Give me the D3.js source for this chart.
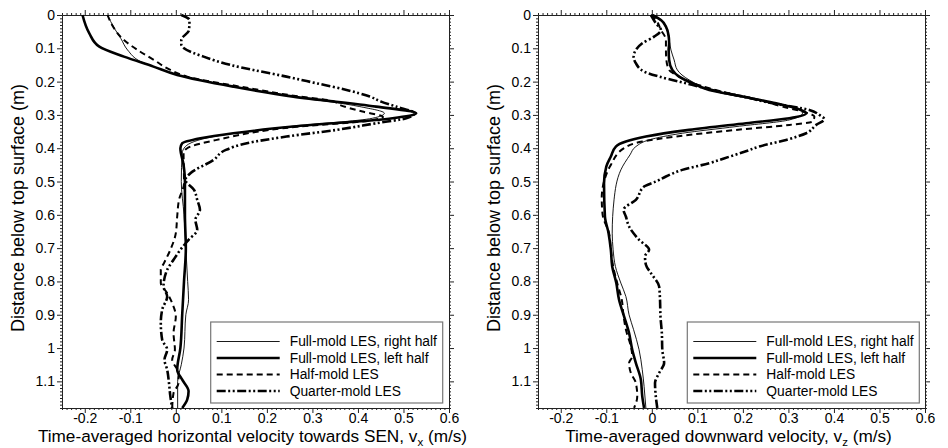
<!DOCTYPE html>
<html>
<head>
<meta charset="utf-8">
<script src="https://cdn.jsdelivr.net/npm/d3@7"></script>
<style>
  body { margin: 0; background: #fff; }
  svg { display: block; font-family: "Liberation Sans", Arial, sans-serif; }
  .tick text { fill: #000; }
</style>
</head>
<body>
<script>
// depth (m) below top surface, velocity (m/s)
var xTicks = [-0.2, -0.1, 0, 0.1, 0.2, 0.3, 0.4, 0.5, 0.6];
var xTickLabels = ["-0.2", "-0.1", "0", "0.1", "0.2", "0.3", "0.4", "0.5", "0.6"];
var yTicks = [0, 0.1, 0.2, 0.3, 0.4, 0.5, 0.6, 0.7, 0.8, 0.9, 1, 1.1];
var yTickLabels = ["0", "0.1", "0.2", "0.3", "0.4", "0.5", "0.6", "0.7", "0.8", "0.9", "1", "1.1"];

var seriesNames = ["Full-mold LES, right half", "Full-mold LES, left half", "Half-mold LES", "Quarter-mold LES"];

// horizontal velocity vx
var vxRightHalf = [[0, -0.15], [0.04, -0.135], [0.07, -0.121], [0.105, -0.106], [0.14, -0.077], [0.16, -0.04],
  [0.18, 0.003], [0.215, 0.13], [0.245, 0.26], [0.275, 0.404], [0.295, 0.458], [0.31, 0.432], [0.335, 0.25],
  [0.365, 0.083], [0.395, 0.021], [0.415, 0.014], [0.5, 0.012], [0.6, 0.018], [0.7, 0.022], [0.8, 0.026],
  [0.855, 0.028], [0.9, 0.022], [1.0, 0.018], [1.05, 0.012], [1.1, 0.004], [1.18, 0.004]];
var vxLeftHalf = [[0, -0.205], [0.055, -0.19], [0.095, -0.168], [0.125, -0.114], [0.155, -0.049], [0.18, 0.003],
  [0.215, 0.126], [0.245, 0.258], [0.275, 0.44], [0.295, 0.528], [0.31, 0.476], [0.335, 0.258], [0.355, 0.126],
  [0.37, 0.054], [0.385, 0.014], [0.4, 0.01], [0.45, 0.017], [0.5, 0.02], [0.6, 0.02], [0.7, 0.022], [0.8, 0.018],
  [0.9, 0.014], [1.0, 0.01], [1.065, 0.003], [1.095, 0.014], [1.13, 0.028], [1.155, 0.025], [1.18, 0.014]];
var vxHalfMold = [[0, -0.15], [0.03, -0.14], [0.075, -0.114], [0.105, -0.084], [0.135, -0.048], [0.165, -0.012],
  [0.185, 0.025], [0.215, 0.141], [0.245, 0.273], [0.258, 0.345], [0.27, 0.36], [0.29, 0.41], [0.306, 0.455],
  [0.318, 0.42], [0.335, 0.27], [0.375, 0.09], [0.4, 0.025], [0.415, 0.017], [0.505, 0.018], [0.555, 0.007],
  [0.605, 0.003], [0.655, 0.0], [0.705, -0.012], [0.745, -0.026], [0.765, -0.033], [0.805, -0.033], [0.835, -0.019],
  [0.865, -0.008], [0.905, 0], [0.955, -0.005], [1.005, -0.002], [1.035, -0.008], [1.075, 0.006], [1.105, 0.006],
  [1.135, -0.005], [1.18, -0.008]];
var vxQuarterMold = [[0, 0.012], [0.015, 0.03], [0.045, 0.029], [0.075, 0.012], [0.088, 0.012], [0.1, 0.018],
  [0.125, 0.061], [0.15, 0.12], [0.165, 0.17], [0.185, 0.243], [0.205, 0.309], [0.225, 0.375], [0.245, 0.426],
  [0.26, 0.451], [0.275, 0.484], [0.295, 0.524], [0.31, 0.506], [0.325, 0.44], [0.345, 0.353], [0.365, 0.243],
  [0.385, 0.156], [0.405, 0.11], [0.435, 0.083], [0.475, 0.032], [0.495, 0.021], [0.525, 0.04], [0.555, 0.047],
  [0.585, 0.053], [0.615, 0.043], [0.645, 0.047], [0.675, 0.028], [0.705, 0.01], [0.735, -0.005], [0.765, -0.019],
  [0.815, -0.027], [0.845, -0.019], [0.885, -0.03], [0.925, -0.033], [0.975, -0.03], [1.005, -0.019],
  [1.035, -0.025], [1.065, -0.019], [1.105, -0.015], [1.145, -0.012], [1.18, -0.008]];

// downward velocity vz
var vzRightHalf = [[0, -0.002], [0.027, 0.027], [0.075, 0.038], [0.105, 0.042], [0.135, 0.049], [0.165, 0.056],
  [0.195, 0.082], [0.215, 0.111], [0.235, 0.155], [0.255, 0.229], [0.275, 0.302], [0.295, 0.331], [0.315, 0.302],
  [0.335, 0.185], [0.355, 0.067], [0.375, -0.006], [0.395, -0.035], [0.42, -0.048], [0.465, -0.068],
  [0.555, -0.083], [0.655, -0.087], [0.705, -0.085], [0.755, -0.08], [0.805, -0.068], [0.845, -0.057],
  [0.9, -0.05], [0.945, -0.04], [1.005, -0.028], [1.065, -0.021], [1.115, -0.017], [1.18, -0.013]];
var vzLeftHalf = [[0, 0.001], [0.015, 0.02], [0.035, 0.031], [0.063, 0.037], [0.085, 0.038], [0.105, 0.037],
  [0.135, 0.038], [0.165, 0.045], [0.185, 0.06], [0.205, 0.089], [0.225, 0.126], [0.245, 0.2], [0.265, 0.273],
  [0.28, 0.317], [0.295, 0.339], [0.31, 0.302], [0.325, 0.207], [0.345, 0.082], [0.365, -0.013], [0.38, -0.057],
  [0.395, -0.079], [0.425, -0.09], [0.455, -0.1], [0.505, -0.105], [0.605, -0.103], [0.655, -0.095],
  [0.705, -0.09], [0.755, -0.087], [0.805, -0.078], [0.855, -0.072], [0.905, -0.061], [0.955, -0.05],
  [1.005, -0.043], [1.045, -0.035], [1.095, -0.024], [1.145, -0.021], [1.18, -0.017]];
var vzHalfMold = [[0, -0.002], [0.015, 0.009], [0.045, 0.02], [0.075, 0.031], [0.105, 0.031], [0.135, 0.032],
  [0.165, 0.038], [0.18, 0.053], [0.2, 0.082], [0.22, 0.126], [0.24, 0.185], [0.255, 0.236], [0.275, 0.287],
  [0.29, 0.331], [0.305, 0.357], [0.32, 0.353], [0.33, 0.302], [0.345, 0.185], [0.365, 0.053], [0.38, -0.021],
  [0.4, -0.061], [0.45, -0.09], [0.5, -0.105], [0.55, -0.11], [0.6, -0.108], [0.655, -0.094], [0.705, -0.09],
  [0.755, -0.085], [0.805, -0.076], [0.855, -0.066], [0.905, -0.062], [0.955, -0.055], [0.985, -0.048],
  [1.025, -0.043], [1.045, -0.05], [1.075, -0.046], [1.105, -0.035], [1.145, -0.032], [1.18, -0.039]];
var vzQuarterMold = [[0, -0.002], [0.025, 0.009], [0.045, 0.02], [0.065, 0.005], [0.085, -0.021], [0.105, -0.035],
  [0.125, -0.04], [0.145, -0.035], [0.17, -0.017], [0.185, 0.016], [0.2, 0.06], [0.215, 0.104], [0.23, 0.148],
  [0.245, 0.2], [0.265, 0.265], [0.285, 0.346], [0.3, 0.368], [0.313, 0.379], [0.33, 0.361], [0.355, 0.339],
  [0.375, 0.295], [0.395, 0.236], [0.41, 0.205], [0.43, 0.16], [0.445, 0.126], [0.465, 0.067], [0.485, 0.031],
  [0.5, 0.009], [0.515, -0.017], [0.555, -0.035], [0.585, -0.062], [0.605, -0.057], [0.635, -0.05],
  [0.675, -0.028], [0.705, -0.006], [0.725, -0.015], [0.75, -0.013], [0.775, -0.002], [0.815, 0.016],
  [0.855, 0.018], [0.905, 0.019], [0.955, 0.022], [1.005, 0.023], [1.045, 0.027], [1.075, 0.016],
  [1.105, 0.007], [1.135, 0.008], [1.18, 0.012]];

// line styles: thin, thick, dashed, dash-dot-dot
var styles = [
  {w: 0.9, dash: null},
  {w: 2.6, dash: null},
  {w: 2, dash: "6,4"},
  {w: 2.6, dash: "9,2.5,2,2.5,2,2.5"}
];

var panels = [
  {left: 62, right: 449, data: [vxRightHalf, vxLeftHalf, vxHalfMold, vxQuarterMold],
   title: "Time-averaged horizontal velocity towards SEN, v", sub: "x", legendX: 210.7},
  {left: 538, right: 925, data: [vzRightHalf, vzLeftHalf, vzHalfMold, vzQuarterMold],
   title: "Time-averaged downward velocity, v", sub: "z", legendX: 687.3}
];

var plotTop = 15, plotBottom = 408;

var svg = d3.select("body").append("svg")
    .attr("width", 948)
    .attr("height", 448);

function minors(lo, hi, step, majors) {
  var out = [];
  for (var i = Math.round(lo / step); i * step <= hi + 1e-9; i++) {
    var v = +(i * step).toFixed(3);
    if (majors.indexOf(v) < 0) out.push(v);
  }
  return out;
}

panels.forEach(function(p) {
  var x = d3.scaleLinear().domain([-0.25, 0.6]).range([p.left, p.right]);
  var y = d3.scaleLinear().domain([0, 1.18]).range([plotTop, plotBottom]);

  var xMinor = minors(-0.25, 0.6, 0.01, xTicks);
  var yMinor = minors(0, 1.18, 0.01, yTicks);

  var g = svg.append("g");

  function addAxis(axis, transform, keepText) {
    var a = g.append("g")
        .attr("transform", transform)
        .call(axis);
    a.selectAll("line").attr("stroke", "#222");
    a.select(".domain").attr("stroke", "#222");
    if (!keepText) a.selectAll("text").remove();
    return a;
  }
  // minor ticks, all four sides
  addAxis(d3.axisBottom(x).tickValues(xMinor).tickSize(2).tickSizeOuter(0), "translate(0," + plotBottom + ")");
  addAxis(d3.axisTop(x).tickValues(xMinor).tickSize(2).tickSizeOuter(0), "translate(0," + plotTop + ")");
  addAxis(d3.axisLeft(y).tickValues(yMinor).tickSize(2).tickSizeOuter(0), "translate(" + p.left + ",0)");
  addAxis(d3.axisRight(y).tickValues(yMinor).tickSize(2).tickSizeOuter(0), "translate(" + p.right + ",0)");

  // major ticks
  var xb = addAxis(d3.axisBottom(x).tickValues(xTicks).tickSize(5).tickSizeOuter(0).tickPadding(0)
      .tickFormat(function(d, i) { return xTickLabels[i]; }), "translate(0," + plotBottom + ")", true);
  addAxis(d3.axisTop(x).tickValues(xTicks).tickSize(5).tickSizeOuter(0), "translate(0," + plotTop + ")");
  var yl = addAxis(d3.axisLeft(y).tickValues(yTicks).tickSize(5).tickSizeOuter(0).tickPadding(2)
      .tickFormat(function(d, i) { return yTickLabels[i]; }), "translate(" + p.left + ",0)", true);
  addAxis(d3.axisRight(y).tickValues(yTicks).tickSize(5).tickSizeOuter(0), "translate(" + p.right + ",0)");

  xb.selectAll("text").style("font-size", "14px").style("font-family", "Liberation Sans, Arial, sans-serif");
  yl.selectAll("text").style("font-size", "14px").style("font-family", "Liberation Sans, Arial, sans-serif");

  // the curves
  var line = d3.line()
      .x(function(d) { return x(d[1]); })
      .y(function(d) { return y(d[0]); })
      .curve(d3.curveMonotoneY);

  p.data.forEach(function(s, i) {
    g.append("path")
        .attr("d", line(s))
        .attr("fill", "none")
        .attr("stroke", "#000")
        .attr("stroke-width", styles[i].w)
        .attr("stroke-dasharray", styles[i].dash)
        .attr("stroke-linejoin", "round");
  });

  // legend
  var lg = g.append("g").attr("transform", "translate(" + p.legendX + ",322)");
  lg.append("rect")
      .attr("width", 232)
      .attr("height", 81)
      .attr("fill", "#fff")
      .attr("stroke", "#777")
      .attr("stroke-width", 1.2);
  seriesNames.forEach(function(name, i) {
    var ly = 19.5 + i * 16.5;
    lg.append("line")
        .attr("x1", 6).attr("x2", 69)
        .attr("y1", ly).attr("y2", ly)
        .attr("stroke", "#000")
        .attr("stroke-width", styles[i].w)
        .attr("stroke-dasharray", styles[i].dash);
    lg.append("text")
        .attr("x", 79)
        .attr("y", ly)
        .attr("dy", "0.35em")
        .style("font-size", "13.8px")
        .text(name);
  });

  // x axis title
  var t = g.append("text")
      .attr("x", (p.left + p.right) / 2 - 3)
      .attr("y", 442)
      .attr("text-anchor", "middle")
      .style("font-size", "17.2px");
  t.append("tspan").text(p.title);
  t.append("tspan").attr("dy", 4).style("font-size", "11.5px").text(p.sub);
  t.append("tspan").attr("dy", -4).text(" (m/s)");

  // y axis title
  g.append("text")
      .attr("transform", "rotate(-90)")
      .attr("x", -208)
      .attr("y", p.left - 38)
      .attr("text-anchor", "middle")
      .style("font-size", "18px")
      .text("Distance below top surface (m)");
});
</script>
</body>
</html>
